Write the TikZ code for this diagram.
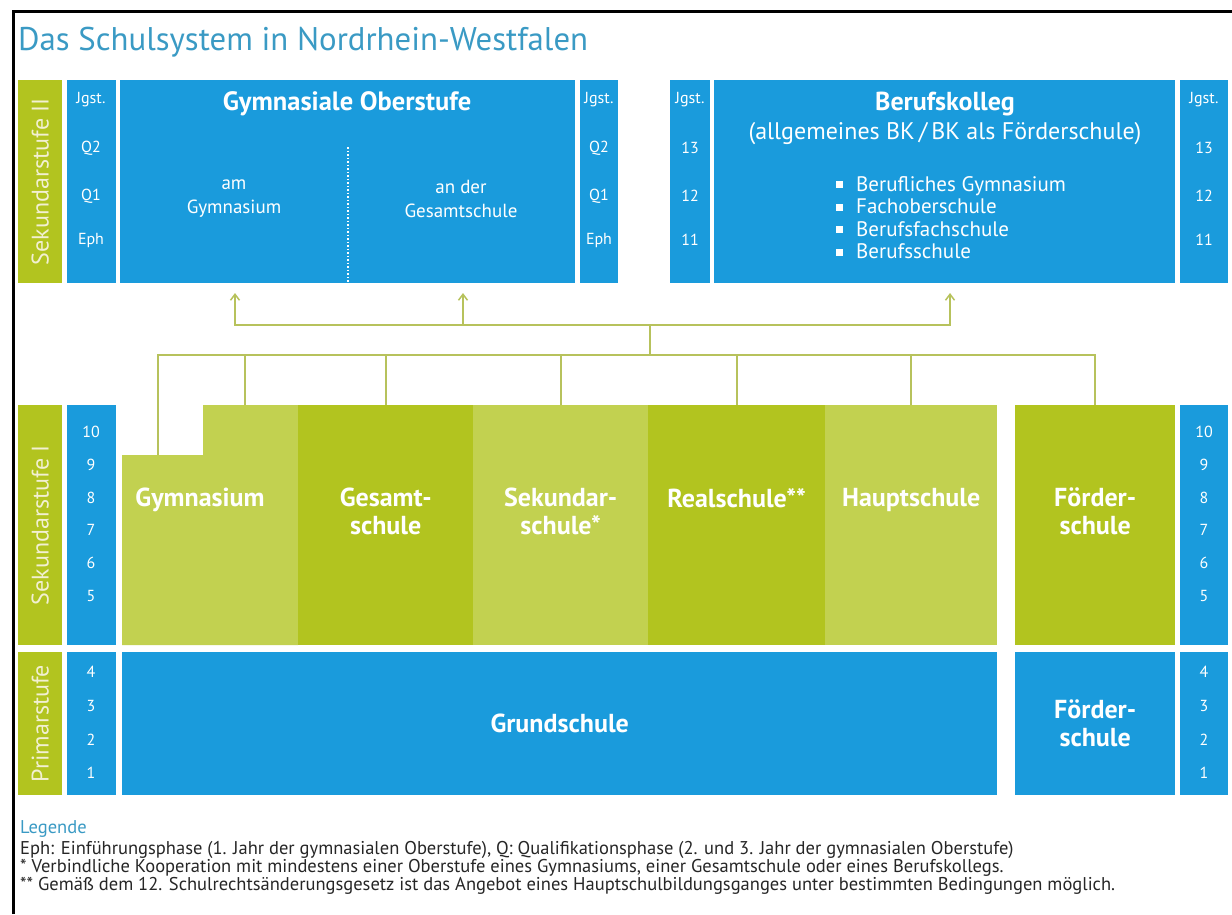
\documentclass[tikz,border=0pt]{standalone}
\usepackage{fontspec}
\setmainfont{PT Sans}
\usetikzlibrary{arrows.meta,positioning}

\definecolor{nrwblue}{HTML}{1A9BDC}
\definecolor{nrwgreen}{HTML}{B2C41F}
\definecolor{nrwlight}{HTML}{C2D150}
\definecolor{nrwline}{HTML}{B7C25C}
\definecolor{nrwtitle}{HTML}{3A9AC4}
\definecolor{nrwlabel}{HTML}{F2F0D2}

\tikzset{
  bluebox/.style={fill=nrwblue, anchor=north west, inner sep=0pt},
  greenbox/.style={fill=nrwgreen, anchor=north west, inner sep=0pt},
  lightbox/.style={fill=nrwlight, anchor=north west, inner sep=0pt},
  num/.style={text=white, font=\fontsize{16}{18}\selectfont},
  stage/.style={rotate=90, text=nrwlabel, font=\fontsize{24}{26}\selectfont},
  school/.style={text=white, align=center, font=\bfseries\fontsize{26}{28}\selectfont},
  link/.style={draw=nrwline, line width=2pt},
  arr/.style={-{Straight Barb[length=6pt, width=9pt, line width=1.5pt]}},
  legend/.style={anchor=west, text=black!85, font=\fontsize{18.5}{20}\selectfont}
}

\begin{document}
\begin{tikzpicture}[x=1pt, y=-1pt, every node/.style={inner sep=0pt}]
  \useasboundingbox (0,0) rectangle (1232,914);
  % frame and title
  \draw[line width=3pt] (13,914) -- (13,11) -- (1232,11);
  \node[anchor=base west, text=nrwtitle, font=\fontsize{32.8}{34}\selectfont] (title) at (18,50) {Das Schulsystem in Nordrhein-Westfalen};

  % Sekundarstufe II
  \node[greenbox, minimum width=44, minimum height=203] (s2) at (18,80) {};
  \node[stage] (s2t) at (s2.center) {Sekundarstufe II};
  \node[bluebox, minimum width=49, minimum height=203] (j1) at (67,80) {};
  \node[bluebox, minimum width=455, minimum height=203] (gos) at (120,80) {};
  \node[bluebox, minimum width=38, minimum height=203] (j2) at (580,80) {};
  \node[bluebox, minimum width=40, minimum height=203] (j3) at (670,80) {};
  \node[bluebox, minimum width=461, minimum height=203] (bk) at (714,80) {};
  \node[bluebox, minimum width=48, minimum height=203] (j4) at (1180,80) {};
  \foreach \t/\y in {Jgst./100, Q2/148, Q1/196, Eph/240} {
    \node[num] (ja\y) at (91,\y) {\t};
    \node[num] (jb\y) at (599,\y) {\t};
  }
  \foreach \t/\y in {Jgst./100, 13/148, 12/196, 11/240} {
    \node[num] (jc\y) at (690,\y) {\t};
    \node[num] (jd\y) at (1204,\y) {\t};
  }
  \node[text=white, font=\bfseries\fontsize{26.5}{28}\selectfont] (gost) at (347,104) {Gymnasiale Oberstufe};
  \node[text=white, align=center, font=\fontsize{19}{24}\selectfont] (gosa) at (234,199) {am\\Gymnasium};
  \node[text=white, align=center, font=\fontsize{19}{24}\selectfont] (gosb) at (461,199) {an der\\Gesamtschule};
  \coordinate (divtop) at (348,147);
  \draw[white, line width=1.5pt, dotted] (divtop) -- (divtop |- gos.south);
  \node[text=white, font=\bfseries\fontsize{26}{28}\selectfont] (bkt) at (945,104) {Berufskolleg};
  \node[text=white, font=\fontsize{24}{26}\selectfont] (bks) at (945,134) {(allgemeines BK\,/\,BK als Förderschule)};
  \node[text=white, anchor=north west, align=left, font=\fontsize{21}{22.5}\selectfont] (bkl) at (836,176)
    {\rule[3pt]{7pt}{7pt}\hspace{13pt}Berufliches Gymnasium\\
     \rule[3pt]{7pt}{7pt}\hspace{13pt}Fachoberschule\\
     \rule[3pt]{7pt}{7pt}\hspace{13pt}Berufsfachschule\\
     \rule[3pt]{7pt}{7pt}\hspace{13pt}Berufsschule};

  % Sekundarstufe I
  \node[greenbox, minimum width=44, minimum height=240] (s1) at (18,405) {};
  \node[stage] (s1t) at (s1.center) {Sekundarstufe I};
  \node[bluebox, minimum width=49, minimum height=240] (j5) at (67,405) {};
  \node[bluebox, minimum width=48, minimum height=240] (j6) at (1180,405) {};
  \foreach \t/\y in {10/432, 9/465, 8/498, 7/530, 6/563, 5/596} {
    \node[num] (je\t) at (91,\y) {\t};
    \node[num] (jf\t) at (1204,\y) {\t};
  }
  \fill[nrwlight] (122,455) -- (203,455) -- (203,405) -- (298,405) -- (298,645) -- (122,645) -- cycle;
  \coordinate (gymlow) at (158,455);
  \coordinate (gymtop) at (245,405);
  \node[school, anchor=north] (gym) at (200,488) {Gymnasium};
  \node[greenbox, minimum width=175, minimum height=240] (ges) at (298,405) {};
  \node[lightbox, minimum width=175, minimum height=240] (sek) at (473,405) {};
  \node[greenbox, minimum width=177, minimum height=240] (real) at (648,405) {};
  \node[lightbox, minimum width=172, minimum height=240] (haupt) at (825,405) {};
  \node[greenbox, minimum width=160, minimum height=240] (foe) at (1015,405) {};
  \node[school, anchor=north] (gest) at ([yshift=-83]ges.north) {Gesamt-\\schule};
  \node[school, anchor=north] (sekt) at ([yshift=-83]sek.north) {Sekundar-\\schule*};
  \node[school, anchor=north] (realt) at ([yshift=-83]real.north) {Realschule**};
  \node[school, anchor=north] (hauptt) at ([yshift=-83]haupt.north) {Hauptschule};
  \node[school, anchor=north] (foet) at ([yshift=-83]foe.north) {Förder-\\schule};

  % Primarstufe
  \node[greenbox, minimum width=44, minimum height=143] (p) at (18,652) {};
  \node[stage] (pt) at (p.center) {Primarstufe};
  \node[bluebox, minimum width=49, minimum height=143] (j7) at (67,652) {};
  \node[bluebox, minimum width=875, minimum height=143] (grund) at (122,652) {};
  \node[bluebox, minimum width=160, minimum height=143] (foep) at (1015,652) {};
  \node[bluebox, minimum width=48, minimum height=143] (j8) at (1180,652) {};
  \foreach \t/\y in {4/672, 3/706, 2/740, 1/773} {
    \node[num] (jg\t) at (91,\y) {\t};
    \node[num] (jh\t) at (1204,\y) {\t};
  }
  \node[school] (grundt) at (grund.center) {Grundschule};
  \node[school] (foept) at (foep.center) {Förder-\\schule};

  % connectors
  \coordinate (upbus) at (650,325);
  \coordinate (lowbus) at (650,355);
  \coordinate (tipa) at (235,293);
  \coordinate (tipb) at (463,293);
  \coordinate (tipc) at (950,293);
  \draw[link, arr] (upbus) -| (tipa);
  \draw[link, arr] (upbus) -| (tipb);
  \draw[link, arr] (upbus) -| (tipc);
  \draw[link] (lowbus) -- (upbus);
  \draw[link] (lowbus) -| (gymlow);
  \draw[link] (lowbus) -| (gymtop);
  \draw[link] (lowbus) -| (ges.north);
  \draw[link] (lowbus) -| (sek.north);
  \draw[link] (lowbus) -| (real.north);
  \draw[link] (lowbus) -| (haupt.north);
  \draw[link] (lowbus) -| (foe.north);

  % legend
  \node[legend, text=nrwtitle] (leg) at (20,829) {Legende};
  \node[legend] (leg1) at (20,850) {Eph: Einführungsphase (1. Jahr der gymnasialen Oberstufe), Q: Qualifikationsphase (2. und 3. Jahr der gymnasialen Oberstufe)};
  \node[legend] (leg2) at (20,868) {* Verbindliche Kooperation mit mindestens einer Oberstufe eines Gymnasiums, einer Gesamtschule oder eines Berufskollegs.};
  \node[legend] (leg3) at (20,886) {** Gemäß dem 12. Schulrechtsänderungsgesetz ist das Angebot eines Hauptschulbildungsganges unter bestimmten Bedingungen möglich.};
\end{tikzpicture}
\end{document}
